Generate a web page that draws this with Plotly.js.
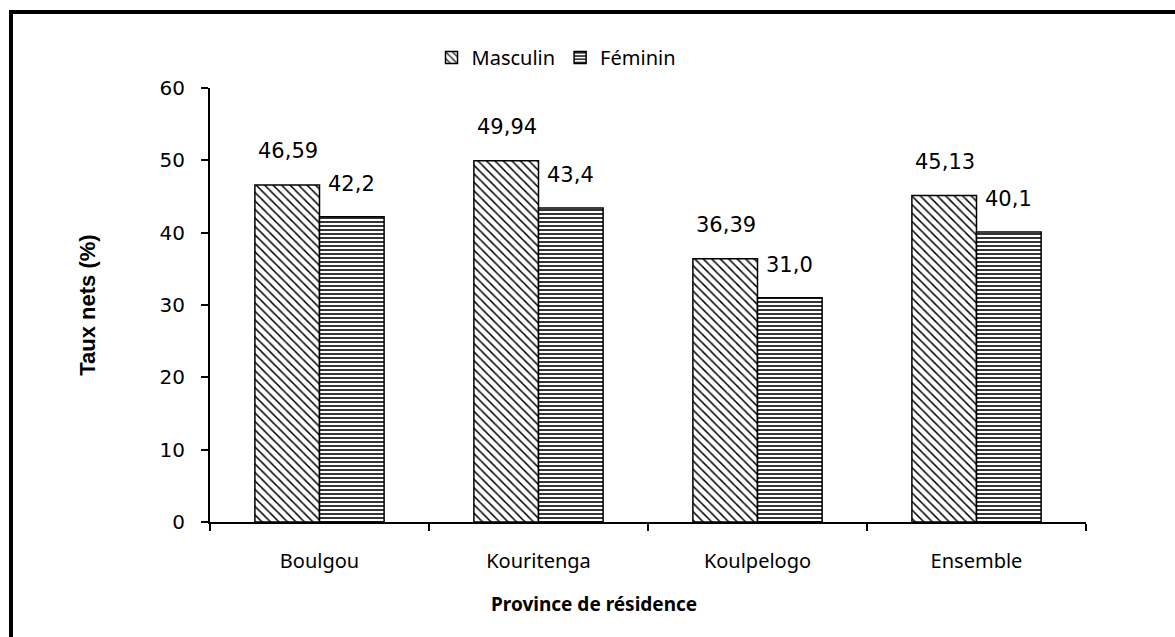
<!DOCTYPE html>
<html>
<head>
<meta charset="utf-8">
<script src="https://cdn.plot.ly/plotly-3.0.1.min.js"></script>
<style>
  html, body { margin: 0; padding: 0; background: #fff; }
  #wrap { position: relative; width: 1175px; height: 637px; overflow: hidden; }
  #chart { position: absolute; left: 0; top: 0; width: 1175px; height: 637px; }
  #frame { position: absolute; left: 9px; top: 10px; width: 1200px; height: 700px;
           border-top: 4px solid #000; border-left: 4px solid #000; pointer-events: none; }
</style>
</head>
<body>
<div id="wrap">
  <div id="chart"></div>
  <div id="frame"></div>
</div>
<script>
const categories = ["Boulgou", "Kouritenga", "Koulpelogo", "Ensemble"];
const masculin = [46.59, 49.94, 36.39, 45.13];
const feminin = [42.2, 43.4, 31.0, 40.1];
const seriesNames = ["Masculin", "Féminin"];
const yTicks = [0, 10, 20, 30, 40, 50, 60];

function fmt(v, d) { return v.toFixed(d).replace('.', ','); }

const traces = [
  {
    type: 'bar', name: seriesNames[0], x: categories, y: masculin,
    marker: { color: '#ffffff', line: { color: '#000', width: 1.5 },
      pattern: { shape: '\\', size: 6, solidity: 0.25, fgcolor: '#000', bgcolor: '#fff' } },
    hoverinfo: 'x+y'
  },
  {
    type: 'bar', name: seriesNames[1], x: categories, y: feminin,
    marker: { color: '#ffffff', line: { color: '#000', width: 1.5 },
      pattern: { shape: '-', size: 4, solidity: 0.4, fgcolor: '#000', bgcolor: '#fff' } },
    hoverinfo: 'x+y'
  }
];

const numFont = { family: 'DejaVu Sans, Arial, sans-serif', size: 21, color: '#000' };
const annotations = [];
categories.forEach((c, i) => {
  annotations.push({ x: c, y: masculin[i], text: fmt(masculin[i], 2), showarrow: false,
    xref: 'x', yref: 'y', xanchor: 'center', yanchor: 'bottom', xshift: -32, yshift: 20, font: numFont });
  annotations.push({ x: c, y: feminin[i], text: fmt(feminin[i], 1), showarrow: false,
    xref: 'x', yref: 'y', xanchor: 'center', yanchor: 'bottom', xshift: 32, yshift: 19, font: numFont });
});
annotations.push({ text: '<b>Province de résidence</b>', xref: 'paper', yref: 'paper',
  x: 0.438, y: -0.19, xanchor: 'center', yanchor: 'middle', showarrow: false,
  font: { family: 'Noto Sans, Open Sans, sans-serif', size: 19, color: '#000' } });

const layout = {
  width: 1175, height: 637,
  margin: { l: 210, r: 89, t: 88, b: 115 },
  paper_bgcolor: '#fff', plot_bgcolor: '#fff',
  barmode: 'group', bargap: 0.41, bargroupgap: 0,
  showlegend: true,
  legend: { orientation: 'h', x: 0.395, xanchor: 'center', y: 1.07, yanchor: 'middle',
    font: { family: 'Noto Sans, Open Sans, sans-serif', size: 20, color: '#000' },
    itemwidth: 30, traceorder: 'normal' },
  xaxis: {
    type: 'category', range: [-0.5, 3.5], showgrid: false, zeroline: false,
    showline: true, linecolor: '#000', linewidth: 2,
    ticks: 'outside', tickson: 'boundaries', ticklen: 7, tickcolor: '#000', tickwidth: 2,
    ticklabelstandoff: 20,
    tickfont: { family: 'Noto Sans, Open Sans, sans-serif', size: 20, color: '#000' }
  },
  yaxis: {
    range: [0, 60], tickvals: yTicks, ticktext: yTicks.map(String),
    showgrid: false, zeroline: false,
    showline: true, linecolor: '#000', linewidth: 2,
    ticks: 'outside', ticklen: 7, tickcolor: '#000', tickwidth: 2,
    ticklabelstandoff: 12,
    tickfont: { family: 'DejaVu Sans, Arial, sans-serif', size: 20, color: '#000' },
    title: { text: '<b>Taux nets (%)</b>', standoff: 58,
      font: { family: 'Liberation Sans, Arial, sans-serif', size: 22, color: '#000' } }
  },
  annotations: annotations
};

Plotly.newPlot('chart', traces, layout, { displayModeBar: false, staticPlot: true });
</script>
</body>
</html>
